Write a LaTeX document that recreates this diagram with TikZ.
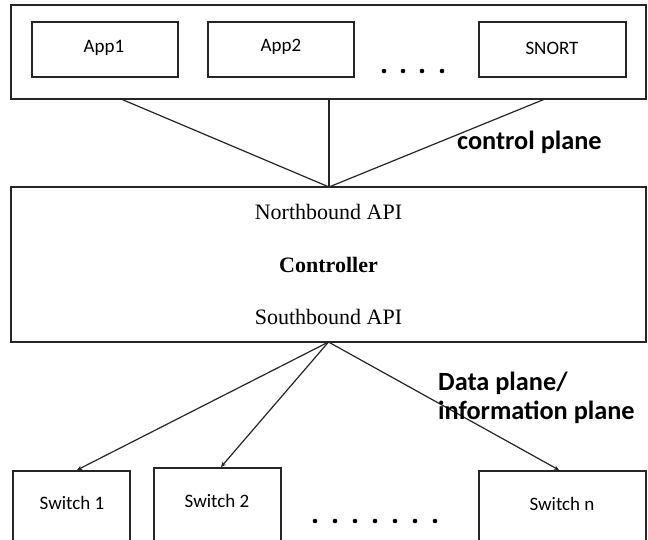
\documentclass[tikz,border=0pt]{standalone}
\usepackage{fontspec}
\setmainfont{Liberation Serif}
\newfontfamily\calibri{Carlito}
\usetikzlibrary{arrows.meta}

\tikzset{
  box/.style={draw=black!85, line width=1.3pt, inner sep=0pt, outer sep=0pt, fill=white},
  applabel/.style={font=\calibri\fontsize{19}{22}\selectfont, inner sep=0pt},
  apitext/.style={font=\fontsize{22}{26}\selectfont, inner sep=0pt},
  planelabel/.style={font=\calibri\bfseries\fontsize{26.3}{31}\selectfont, inner sep=0pt, anchor=west},
  link/.style={draw=black!85, line width=1.2pt},
  arrowlink/.style={link, -{Stealth[length=5pt,width=4.5pt]}},
  dotmark/.style={fill=black, circle, inner sep=0pt, minimum size=4.6pt}
}

\begin{document}
\begin{tikzpicture}[x=1pt, y=-1pt]
  \useasboundingbox (0,0) rectangle (648,539);
  \clip (0,0) rectangle (648,539);
  \fill[white] (0,0) rectangle (648,539);

  % application layer
  \node[box, minimum width=635pt, minimum height=94pt] (apps) at (328.5,52) {};
  \node[box, minimum width=146pt, minimum height=55pt] (app1) at (105,49.5) {};
  \node[box, minimum width=146pt, minimum height=55pt] (app2) at (281,49.5) {};
  \node[box, minimum width=147pt, minimum height=55pt] (snort) at (552.5,49.5) {};
  \node[applabel] (app1t) at (104,48) {App1};
  \node[applabel] (app2t) at (281,47) {App2};
  \node[applabel] (snortt) at (552,48) {SNORT};
  \foreach \i/\x in {1/384,2/403,3/422,4/442}
    \node[dotmark] (adot\i) at (\x,71) {};

  % controller
  \node[box, minimum width=635pt, minimum height=155pt] (ctrl) at (328.5,264.5) {};
  \node[apitext] (nbi) at (328.5,212) {Northbound API};
  \node[apitext, font=\bfseries\fontsize{22}{26}\selectfont] (ctrlt) at (328.5,265) {Controller};
  \node[apitext] (sbi) at (328.5,317) {Southbound API};

  % control plane links
  \coordinate (cin) at (329,187);
  \coordinate (a1) at (121,99);
  \coordinate (a2) at (329,99);
  \coordinate (a3) at (545,99);
  \draw[link] (a1) -- (cin);
  \draw[link] (a2) -- (cin);
  \draw[link] (a3) -- (cin);
  \node[planelabel] (cplane) at (457,142) {control plane};

  % switches
  \node[box, minimum width=117pt, minimum height=100pt, anchor=north] (sw1) at (71.5,471) {};
  \node[box, minimum width=127pt, minimum height=100pt, anchor=north] (sw2) at (217.5,468) {};
  \node[box, minimum width=167pt, minimum height=100pt, anchor=north] (swn) at (562.5,471) {};
  \node[applabel] (sw1t) at (72,503) {Switch 1};
  \node[applabel] (sw2t) at (217,501) {Switch 2};
  \node[applabel] (swnt) at (562,504) {Switch n};
  \foreach \i in {0,...,6}
    \node[dotmark] (sdot\i) at (315+20*\i,521) {};

  % data plane links
  \coordinate (cout) at (328.5,342);
  \coordinate (s1) at (77,470);
  \coordinate (s2) at (221,467);
  \coordinate (sn) at (559,470);
  \draw[arrowlink] (cout) -- (s1);
  \draw[arrowlink] (cout) -- (s2);
  \draw[arrowlink] (cout) -- (sn);
  \node[planelabel] (dplane1) at (438,383) {Data plane/};
  \node[planelabel] (dplane2) at (438,412) {information plane};
\end{tikzpicture}
\end{document}
